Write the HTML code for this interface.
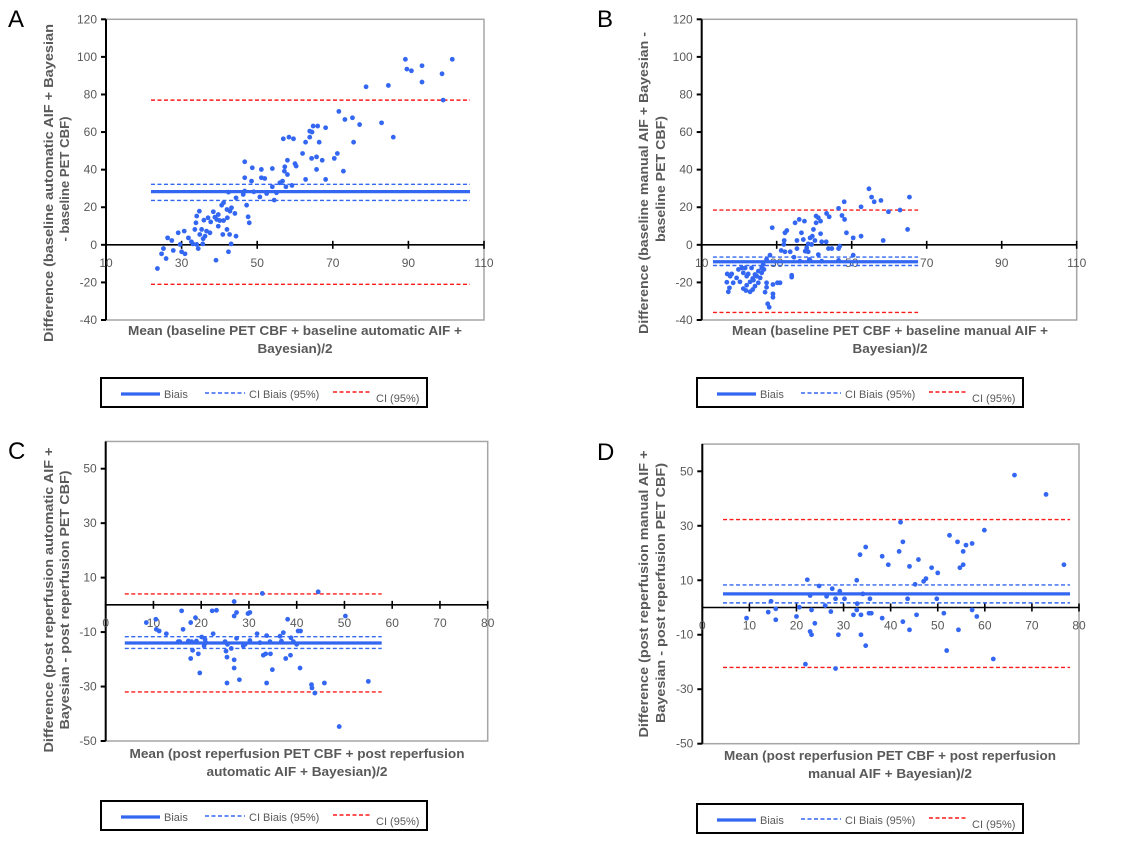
<!DOCTYPE html>
<html><head><meta charset="utf-8">
<style>
html,body{margin:0;padding:0;background:#fff;}
svg{display:block;font-family:"Liberation Sans",sans-serif;}
</style></head>
<body>
<svg id="fig" width="1134" height="842" viewBox="0 0 1134 842" xmlns="http://www.w3.org/2000/svg"></svg>
<script>
// ---- Panel A data ----
const aX=[89.2,101.6,89.6,90.8,93.6,93.6,98.9,99.2,78.8,84.7,86,82.9,71.6,73.2,75.2,77.1,75.5,72.8,70.4,71.2,68.1,66,64.8,64.5,63.9,63.9,62.8,66.4,62,64.4,65.7,67.2,65.7,62.8,68.1,56.9,58.4,59.6,58,57.3,58,60,60.3,59.2,57.6,57.2,56.7,56,54,54,55.1,54.5,52.5,51.1,52,51.1,50.7,48.5,48.7,46.7,46.7,46.7,46.3,47.2,47.6,47.9,49.1,44.4,44.4,44.1,43.2,42.8,42.4,42,41.1,40.6,39.7,39.3,38.8,38.4,40.1,41.1,42.1,40.9,42,42.7,43.1,42.4,39.1,39.7,37.5,37,35.9,35.3,34.7,34,33.8,33.5,34.8,35.7,36.2,34,34.4,35.6,32.6,31.8,30.7,29.1,29.6,30,30.9,27.8,27.4,26.3,25.2,24.7,25.9,23.6,33,36.6,37.7];
const aY=[98.7,98.7,93.5,92.6,95.3,86.6,91,77,84.1,84.8,57.3,64.9,71,66.7,67.6,64,54.6,39.2,46,48.6,62.3,63.2,63.2,60,60.5,57.3,54.6,54.6,48.6,46,46.8,45,40.1,34.8,34.8,56.4,57.3,56.4,45,41.5,37.4,43.2,41.9,31.6,30.9,39.2,33.9,33,40.6,30.9,27.7,23.8,27.3,35.7,35.3,40.1,25.5,33.9,41,44.2,35.7,28.6,26.8,21.1,14.9,11.7,28.2,25,4.6,16.7,19.7,17.9,28,18.8,22.4,21.1,16.1,13.5,14.7,17.6,12.9,12.9,14.4,5.5,8.2,5.5,0.5,-3.7,-8.2,9.9,6.4,14.4,13.1,8.2,17.9,15.3,11.7,8.2,5.5,3.2,4.6,0.2,-2,0.5,1.6,3.7,7.3,6.4,0.2,-3.7,-4.8,-3,2.3,3.7,-2,-4.8,-7.3,-12.6,0.5,7.3,12.2];
const aLines=[28.3,32.2,23.6,77,-21];
// ---- Panel B data ----
const bX=[54.6,55.3,56,57.8,65.4,48,52.5,46.5,59.8,62.9,64.9,58.4,52.5,50.4,48.6,47.4,48.1,43.3,44,40.5,41.1,40.5,41.7,37.4,36,34.9,36.6,39.8,41.7,39.5,38.9,40.2,42,43.2,43.8,44.7,46.5,46.8,37.1,38.4,39.3,38,37.6,38.4,38.7,41.1,35.4,35.4,34.6,33.6,32.2,31.2,32,32.2,32.7,28.8,34,34,36.2,38.9,42,46.5,50.4,31.9,30.9,30.2,29,27.3,27.3,29,29,26.9,27.6,28,28.2,27.3,26.4,26,25.1,24.2,23.6,22.9,22,21.1,22.9,21.8,20.2,19.3,18.4,17.4,17.1,16.7,16.8,17.6,18,19.8,20.7,21.1,22,23.3,23.8,24.7,25.1,24.2,25.6,26,26.6,23.6,22.4,21.6];
const bY=[29.8,25.4,22.9,23.6,25.4,22.9,20.2,19.4,17.6,18.5,8.2,2.3,4.6,3.7,6.4,15.6,13.5,16.7,14.9,15.3,14.4,11.7,12.6,12.6,13.5,11.7,6.4,8.2,5.9,4.6,3.7,2.3,1.6,1.6,-2,-2,-2,-0.7,2.8,0.5,0.2,-1.6,-3.4,-3.7,-7.8,-5.2,2.3,-2,-6.6,-3.7,-3.7,-3,2.3,6.4,7.6,9.1,-16.2,-17.2,-8.7,-8.3,-8.7,-8.3,-5.5,0.2,-20.2,-20.2,-21.1,-20.2,-22.6,-26.1,-27.9,-25.2,-31.4,-33.2,-5.5,-7.8,-10.5,-12.3,-14,-15.8,-17.9,-19.7,-21.5,-23.3,-25,-24.3,-19.7,-17.6,-20.2,-22.9,-25,-19.9,-15.5,-16.7,-15.5,-13.1,-12.3,-14.9,-16.7,-12.3,-18.8,-16.7,-20.2,-22,-17.6,-14.9,-13.1,-23.8,-15.5,-12.3];
const bLines=[-9,-6.5,-11,18.5,-36];
// ---- Panel C data ----
const cX=[8.5,10.5,10.6,11.2,12.7,15.9,16.2,15.2,17.8,18.8,18,18.2,17.8,19.4,19.7,20.1,20.8,20.6,22.3,23.2,22.5,25,25.2,25.4,25.4,26.3,26.9,26.9,27.4,27.4,26.9,26.9,28,28.8,29.8,30.2,30.2,31.7,32.8,33,33.5,33.7,33.7,34.5,34.9,34.4,36.5,37.2,37.7,38.1,38.7,38.8,39.3,40.3,40.8,40.7,40,43.1,43.2,43.8,44.5,45.8,48.9,50.2,55,15.5,17.3,19,21,25.5,29.2,32.3,36.8];
const cY=[-6.5,-5.3,-9,-9.6,-10.6,-2.2,-9,-13.5,-6.5,-4.7,-13.5,-16.7,-19.7,-18,-25,-11.8,-12.7,-15.1,-2.2,-2,-10.6,-13.5,-17,-19.2,-28.7,-16,1.2,-4.1,-2.8,-12.3,-20.2,-23.2,-27.5,-15.1,-3.2,-2.8,-13.1,-10.6,4.2,-18.5,-18,-11.3,-28.7,-18,-23.8,-13.5,-11.5,-10.2,-19.7,-5.3,-18.5,-12.1,-13.5,-9.6,-9.6,-23.2,-14.5,-29.3,-30.5,-32.4,4.8,-28.7,-44.7,-4.1,-28.1,-13.5,-13.3,-13.3,-13.9,-14.5,-14.5,-13.9,-13.3];
const cLines=[-14,-11.7,-16,4,-32];
// ---- Panel D data ----
const dX=[66.3,73,76.8,59.9,52.5,54.2,56,57.3,55.4,55.4,54.7,54.4,57.3,58.3,61.8,51.9,51.3,49.8,50,48.7,47.5,47,45.2,45.9,45.5,44,44,43.6,42.6,42.6,42.1,41.8,39.5,38.2,38.2,35.9,35.4,35.6,34.7,34.7,33.5,34.1,33.7,33.7,32.9,32.8,32.8,32.1,30.2,29.2,28.9,28.3,28.3,27.6,27.3,26.4,26.1,24.8,23.9,23.2,22.9,23.2,22.9,22.3,21.9,20.6,20,15.6,15.6,14.6,14,9.4];
const dY=[48.6,41.5,15.7,28.4,26.5,24.1,22.9,23.5,20.6,15.7,14.6,-8.2,-0.9,-3.3,-18.9,-15.8,-2.1,3.2,12.7,14.6,10.6,9.6,8.5,17.6,-2.7,15.1,-8.2,3.2,24.1,-5.2,31.3,20.6,15.7,18.8,-3.9,-2.1,-2.1,3.2,22.2,-14,19.4,5,-10,-2.7,1.4,10,-0.9,-2.7,3.2,6,-10,-22.4,3.2,6.9,-1.5,4.1,0.7,7.9,-5.8,-0.9,4.4,-10,-8.8,10.2,-20.8,0.1,-3.3,-0.5,-4.5,2.3,-1.7,-3.9];
const dLines=[5,8.3,1.7,32.3,-22];
// tick labels
const ticksAB_X=[10,30,50,70,90,110];
const ticksAB_Y=[-40,-20,0,20,40,60,80,100,120];
const ticksCD_X=[0,10,20,30,40,50,60,70,80];
const ticksCD_Y=[-50,-30,-10,10,30,50];

const NS="http://www.w3.org/2000/svg";
const svg=document.getElementById('fig');
function mk(tag,attrs,parent,txt){const e=document.createElementNS(NS,tag);for(const k in attrs)e.setAttribute(k,attrs[k]);if(txt!==undefined)e.textContent=txt;(parent||svg).appendChild(e);return e;}
const BLUE="#3367f2", GRAY="#595959";

function panel(p){
  const g=mk('g',{});
  
  
  const sx=v=>p.x0+(v-p.xmin)/(p.xmax-p.xmin)*(p.x1-p.x0);
  const sy=v=>p.yb-(v-p.ymin)/(p.ymax-p.ymin)*(p.yb-p.yt);
  const top=sy(p.frameTop);
  // frame
  const fr=mk('rect',{x:p.x0,y:top,width:p.x1-p.x0,height:p.yb-top,fill:'none',stroke:'#a6a6a6','stroke-width':1.5},g);
  
  
  // letter
  const L=mk('text',{x:p.lx,y:p.ly,'font-size':24,fill:'#000'},g,p.id);
  
  
  // y axis
  const ya=mk('line',{x1:p.x0,y1:top,x2:p.x0,y2:p.yb,stroke:'#000','stroke-width':2},g);
  
  
  p.yt_.forEach(v=>{
    mk('line',{x1:p.x0-5,y1:sy(v),x2:p.x0,y2:sy(v),stroke:'#000','stroke-width':2},g);
    const t=mk('text',{x:p.x0-9,y:sy(v)+4,'font-size':12,fill:GRAY,'text-anchor':'end'},g,v);
    
    
  });
  // zero line
  const z=sy(0);
  const xa=mk('line',{x1:p.x0,y1:z,x2:p.x1,y2:z,stroke:'#000','stroke-width':1.6},g);
  
  
  p.xt_.forEach(v=>{
    mk('line',{x1:sx(v),y1:z-4,x2:sx(v),y2:z+4,stroke:'#000','stroke-width':1.6},g);
    const t=mk('text',{x:sx(v),y:z+22,'font-size':12,fill:GRAY,'text-anchor':'middle'},g,v);
    
    
  });
  // lines
  const L0=sx(p.lx0),L1=sx(p.lx1);
  const ln=p.lines;
  const b=mk('line',{x1:L0,y1:sy(ln[0]),x2:L1,y2:sy(ln[0]),stroke:BLUE,'stroke-width':3.2},g);
  
  
  [ln[1],ln[2]].forEach(v=>{const c=mk('line',{x1:L0,y1:sy(v),x2:L1,y2:sy(v),stroke:BLUE,'stroke-width':1.4,'stroke-dasharray':'4,2.5'},g);
    
    });
  [ln[3],ln[4]].forEach(v=>{const c=mk('line',{x1:L0,y1:sy(v),x2:L1,y2:sy(v),stroke:'#ff1a1a','stroke-width':1.4,'stroke-dasharray':'4,2.5'},g);
    
    });
  // points
  p.xs.forEach((xv,i)=>{
    const c=mk('circle',{cx:sx(xv),cy:sy(p.ys[i]),r:2.4,fill:BLUE},g);
    
    
  });
  // x title
  p.xtitle.forEach((s,i)=>{
    const t=mk('text',{x:p.xtc,y:p.xty[i],'font-size':13,'font-weight':'bold',fill:GRAY,'text-anchor':'middle',textLength:p.xtl[i],lengthAdjust:'spacingAndGlyphs'},g,s);
    
    
  });
  // y title
  p.ytitle.forEach((s,i)=>{
    const t=mk('text',{x:0,y:0,'font-size':13,'font-weight':'bold',fill:GRAY,'text-anchor':'middle',textLength:p.ytl[i],lengthAdjust:'spacingAndGlyphs',transform:`translate(${p.ytx[i]+5},${p.ytc[i]}) rotate(-90)`},g,s);
    
    
  });
  // legend
  const lg=mk('g',{transform:`translate(${p.legx},${p.legy})`},g);
  
  
  mk('rect',{x:0,y:0,width:326,height:29,fill:'#fff',stroke:'#000','stroke-width':2},lg);
  const e1=mk('line',{x1:20,y1:16,x2:59,y2:16,stroke:BLUE,'stroke-width':3.2},lg);
  
  
  mk('text',{x:63,y:20,'font-size':11,fill:GRAY},lg,'Biais');
  const e2=mk('line',{x1:104,y1:15,x2:144,y2:15,stroke:BLUE,'stroke-width':1.4,'stroke-dasharray':'4,2.5'},lg);
  
  
  mk('text',{x:148,y:20,'font-size':11,fill:GRAY},lg,'CI Biais (95%)');
  const e3=mk('line',{x1:232,y1:14,x2:271,y2:14,stroke:'#ff1a1a','stroke-width':1.4,'stroke-dasharray':'4,2.5'},lg);
  
  
  mk('text',{x:275,y:24,'font-size':11,fill:GRAY},lg,'CI (95%)');
}

panel({id:'A',x0:106,x1:484,xmin:10,xmax:110,yt:19.3,yb:320,ymin:-40,ymax:120,frameTop:120,lx:8,ly:27,
  xt_:ticksAB_X,yt_:ticksAB_Y,xs:aX,ys:aY,lines:aLines,lx0:21.9,lx1:106.3,
  xtitle:['Mean  (baseline PET CBF + baseline automatic AIF +','Bayesian)/2'],xtc:295,xty:[335,353],xtl:[334,75],
  ytitle:['Difference (baseline automatic AIF + Bayesian','- baseline PET CBF)'],ytx:[48,64],ytc:[183,179],ytl:[318,125],
  legx:101,legy:378});
panel({id:'B',x0:701.7,x1:1076.7,xmin:10,xmax:110,yt:19.3,yb:320,ymin:-40,ymax:120,frameTop:120,lx:597,ly:27,
  xt_:ticksAB_X,yt_:ticksAB_Y,xs:bX,ys:bY,lines:bLines,lx0:13,lx1:67.7,
  xtitle:['Mean  (baseline PET CBF + baseline manual  AIF +','Bayesian)/2'],xtc:890,xty:[335,353],xtl:[316,75],
  ytitle:['Difference (baseline manual  AIF + Bayesian -','baseline PET CBF)'],ytx:[643,660],ytc:[183,179],ytl:[302,126],
  legx:697,legy:378});
panel({id:'C',x0:105.7,x1:487.7,xmin:0,xmax:80,yt:468.7,yb:741,ymin:-50,ymax:50,frameTop:60,lx:8,ly:459,
  xt_:ticksCD_X,yt_:ticksCD_Y,xs:cX,ys:cY,lines:cLines,lx0:4,lx1:57.8,
  xtitle:['Mean (post reperfusion PET CBF + post reperfusion','automatic AIF + Bayesian)/2'],xtc:297,xty:[758,776],xtl:[335,181],
  ytitle:['Difference (post reperfusion automatic AIF +','Bayesian - post reperfusion PET CBF)'],ytx:[48,64],ytc:[600,600],ytl:[305,259],
  legx:101,legy:801});
panel({id:'D',x0:702.3,x1:1079,xmin:0,xmax:80,yt:471.3,yb:743.7,ymin:-50,ymax:50,frameTop:60,lx:597,ly:460,
  xt_:ticksCD_X,yt_:ticksCD_Y,xs:dX,ys:dY,lines:dLines,lx0:4.4,lx1:78.1,
  xtitle:['Mean  (post reperfusion PET CBF + post reperfusion','manual  AIF + Bayesian)/2'],xtc:890,xty:[760,778],xtl:[332,164],
  ytitle:['Difference (post reperfusion manual AIF +','Bayesian - post reperfusion PET CBF)'],ytx:[643,660],ytc:[594,593],ytl:[287,260],
  legx:697,legy:804});
</script>
</body></html>
